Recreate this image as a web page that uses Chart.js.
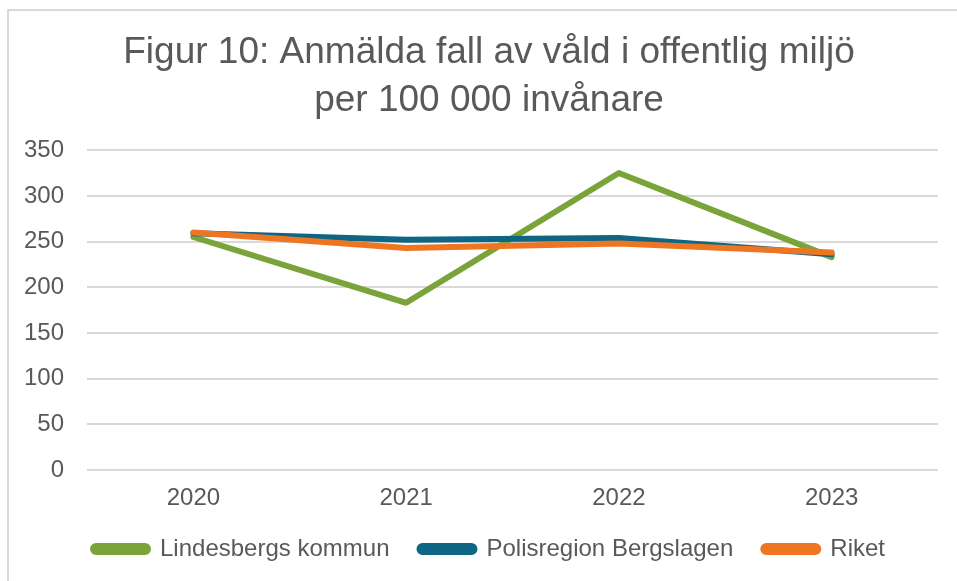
<!DOCTYPE html>
<html>
<head>
<meta charset="utf-8">
<script src="https://cdn.jsdelivr.net/npm/chart.js@4.4.1/dist/chart.umd.min.js"></script>
<style>
  html, body { margin: 0; padding: 0; background: #fff; }
  #wrap { position: relative; width: 957px; height: 581px; }
  #frame { position: absolute; left: 7px; top: 9px; width: 960px; height: 580px;
           border-left: 2px solid #d9d9d9; border-top: 2px solid #d9d9d9; }
  canvas { position: absolute; left: 0; top: 0; }
</style>
</head>
<body>
<div id="wrap">
  <div id="frame"></div>
  <canvas id="chart" width="957" height="581"></canvas>
</div>
<script>
// data
const years = ["2020", "2021", "2022", "2023"];
const lindesberg = [255, 183, 325, 233];
const polisregion = [259, 252, 254, 236];
const riket = [260, 243, 248, 238];

const textColor = "#595959";
const gridColor = "#d9d9d9";

const ctx = document.getElementById("chart");

let myChart = new Chart(ctx, {
  type: "line",
  data: {
    labels: years,
    datasets: [
      { label: "Lindesbergs kommun", data: lindesberg, borderColor: "#7aa33a", backgroundColor: "#7aa33a", order: 3 },
      { label: "Polisregion Bergslagen", data: polisregion, borderColor: "#0f6584", backgroundColor: "#0f6584", order: 2 },
      { label: "Riket", data: riket, borderColor: "#ee7623", backgroundColor: "#ee7623", order: 1 }
    ]
  },
  options: {
    responsive: false,
    animation: false,
    layout: { padding: { left: 21, right: 0, top: 6, bottom: 10 } },
    elements: {
      line: { borderWidth: 6, tension: 0, borderCapStyle: "round", borderJoinStyle: "round" },
      point: { radius: 0 }
    },
    scales: {
      x: {
        offset: true,
        grid: { display: false },
        border: { display: false },
        ticks: { color: textColor, font: { family: "Liberation Sans, Arial", size: 24 }, padding: 6 },
        afterFit: (s) => { s.height = 37; }
      },
      y: {
        min: 0,
        max: 350,
        grid: { color: gridColor, lineWidth: 2, drawTicks: false },
        border: { display: false },
        ticks: { stepSize: 50, color: textColor, font: { family: "Liberation Sans, Arial", size: 24 }, padding: 23 },
        afterFit: (s) => { s.width = 66; }
      },
      // empty right-hand axis, only keeps the plot off the right edge
      yRight: {
        position: "right",
        min: 0,
        max: 350,
        grid: { display: false },
        border: { display: false },
        ticks: { display: false },
        afterFit: (s) => { s.width = 19; }
      }
    },
    plugins: {
      tooltip: { enabled: false },
      title: {
        display: true,
        text: ["Figur 10: Anmälda fall av våld i offentlig miljö", "per 100 000 invånare"],
        color: textColor,
        font: { family: "Liberation Sans, Arial", size: 37, weight: "normal", lineHeight: 1.3 },
        padding: { top: 23, bottom: 25 }
      },
      legend: {
        position: "bottom",
        labels: {
          sort: (a, b) => a.datasetIndex - b.datasetIndex,
          color: textColor,
          font: { family: "Liberation Sans, Arial", size: 24 },
          boxWidth: 55,
          boxHeight: 6,
          useBorderRadius: true,
          borderRadius: 3,
          padding: 30
        }
      }
    }
  }
});
</script>
</body>
</html>
